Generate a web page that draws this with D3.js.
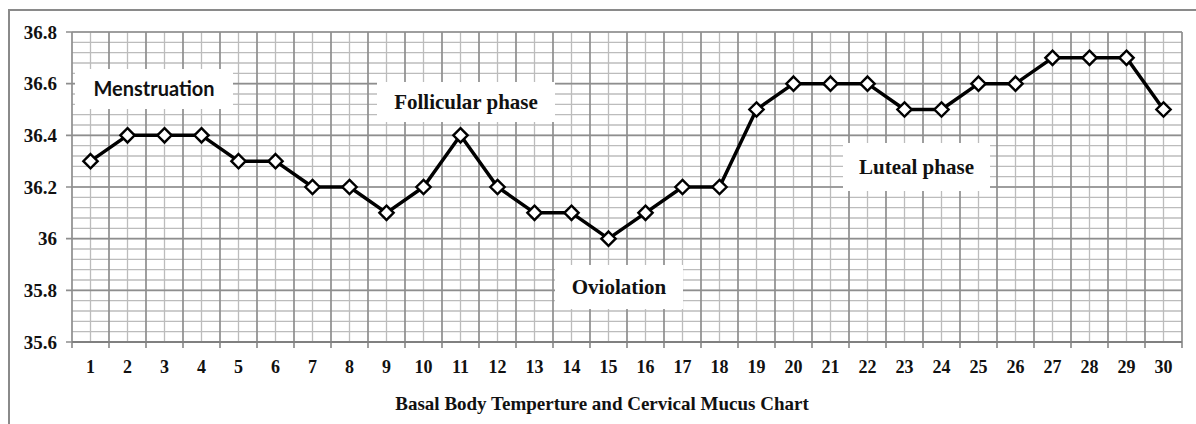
<!DOCTYPE html>
<html>
<head>
<meta charset="utf-8">
<script src="https://cdn.jsdelivr.net/npm/d3@7"></script>
<style>
  html, body { margin: 0; padding: 0; background: #fff; }
  svg { display: block; }
</style>
</head>
<body>
<div id="chart"></div>
<script>
// Data
var days = d3.range(1, 31);
var temps = [36.3, 36.4, 36.4, 36.4, 36.3, 36.3, 36.2, 36.2, 36.1, 36.2,
             36.4, 36.2, 36.1, 36.1, 36.0, 36.1, 36.2, 36.2, 36.5, 36.6,
             36.6, 36.6, 36.5, 36.5, 36.6, 36.6, 36.7, 36.7, 36.7, 36.5];
var yTicks = [35.6, 35.8, 36, 36.2, 36.4, 36.6, 36.8];
var yMinorStep = 0.04;
var title = "Basal Body Temperture and Cervical Mucus Chart";
var phaseLabels = ["Menstruation", "Follicular phase", "Oviolation", "Luteal phase"];

// Size
var chart_width = 1196;
var chart_height = 424;
var plot = { left: 72, right: 1182, top: 32, bottom: 342 };

var x = d3.scaleBand()
    .domain(days)
    .range([plot.left, plot.right])
    .padding(0);
var y = d3.scaleLinear()
    .domain([35.6, 36.8])
    .range([plot.bottom, plot.top]);

var svg = d3.select("#chart")
    .append("svg")
    .attr("width", chart_width)
    .attr("height", chart_height);

// outer frame
svg.append("rect")
    .attr("x", 9).attr("y", 10)
    .attr("width", 1200).attr("height", 430)
    .style("fill", "#fff")
    .style("stroke", "#8a8a8a")
    .style("stroke-width", 2);

// minor grid
var yMinor = d3.range(0, Math.round((36.8 - 35.6) / yMinorStep) + 1)
    .map(i => +(35.6 + i * yMinorStep).toFixed(2));

svg.append("g").selectAll("line")
    .data(yMinor)
    .enter()
    .append("line")
    .attr("x1", plot.left).attr("x2", plot.right)
    .attr("y1", d => y(d)).attr("y2", d => y(d))
    .style("stroke", "#bcbcbc")
    .style("stroke-width", 1.3);

svg.append("g").selectAll("line")
    .data(days)
    .enter()
    .append("line")
    .attr("x1", d => x(d) + x.bandwidth() / 2).attr("x2", d => x(d) + x.bandwidth() / 2)
    .attr("y1", plot.top).attr("y2", plot.bottom)
    .style("stroke", "#bcbcbc")
    .style("stroke-width", 1.3);

// major grid
svg.append("g").selectAll("line")
    .data(yTicks)
    .enter()
    .append("line")
    .attr("x1", plot.left - 6).attr("x2", plot.right)
    .attr("y1", d => y(d)).attr("y2", d => y(d))
    .style("stroke", "#8e8e8e")
    .style("stroke-width", 1.7);

svg.append("g").selectAll("line")
    .data(days.concat([31]))
    .enter()
    .append("line")
    .attr("x1", d => d > 30 ? plot.right : x(d)).attr("x2", d => d > 30 ? plot.right : x(d))
    .attr("y1", plot.top).attr("y2", plot.bottom + 6)
    .style("stroke", "#8e8e8e")
    .style("stroke-width", 1.7);

// bottom axis line
svg.append("line")
    .attr("x1", plot.left).attr("x2", plot.right)
    .attr("y1", plot.bottom).attr("y2", plot.bottom)
    .style("stroke", "#808080")
    .style("stroke-width", 2);

// tick labels
svg.append("g").selectAll("text")
    .data(yTicks)
    .enter()
    .append("text")
    .attr("x", 57)
    .attr("y", d => y(d))
    .attr("dy", "0.35em")
    .attr("text-anchor", "end")
    .style("font", "bold 19px 'Liberation Serif', 'Times New Roman', serif")
    .style("fill", "#111")
    .text(d => String(d));

svg.append("g").selectAll("text")
    .data(days)
    .enter()
    .append("text")
    .attr("x", d => x(d) + x.bandwidth() / 2)
    .attr("y", 367)
    .attr("dy", "0.35em")
    .attr("text-anchor", "middle")
    .style("font", "bold 18px 'Liberation Serif', 'Times New Roman', serif")
    .style("fill", "#111")
    .text(d => d);

// title
svg.append("text")
    .attr("x", 602)
    .attr("y", 410)
    .attr("text-anchor", "middle")
    .style("font", "bold 19px 'Liberation Serif', 'Times New Roman', serif")
    .style("fill", "#111")
    .text(title);

// phase text boxes
var boxes = [
    { x: 75,  y: 69,  w: 158, h: 40, font: "bold 20px Lato, 'Open Sans', sans-serif" },
    { x: 377, y: 82,  w: 178, h: 40, font: "bold 21px 'Liberation Serif', serif" },
    { x: 555, y: 265, w: 128, h: 44, font: "bold 21px 'Liberation Serif', serif" },
    { x: 843, y: 143, w: 147, h: 48, font: "bold 21px 'Liberation Serif', serif" }
];
var labelG = svg.append("g").selectAll("g")
    .data(phaseLabels)
    .enter()
    .append("g");
labelG.append("rect")
    .attr("x", (d, i) => boxes[i].x)
    .attr("y", (d, i) => boxes[i].y)
    .attr("width", (d, i) => boxes[i].w)
    .attr("height", (d, i) => boxes[i].h)
    .style("fill", "#fff");
labelG.append("text")
    .attr("x", (d, i) => boxes[i].x + boxes[i].w / 2)
    .attr("y", (d, i) => boxes[i].y + boxes[i].h / 2)
    .attr("dy", "0.35em")
    .attr("text-anchor", "middle")
    .style("font", (d, i) => boxes[i].font)
    .style("fill", "#111")
    .text(d => d);

// line
var line = d3.line()
    .x((d, i) => x(days[i]) + x.bandwidth() / 2)
    .y(d => y(d));

svg.append("path")
    .datum(temps)
    .attr("d", line)
    .style("fill", "none")
    .style("stroke", "#000")
    .style("stroke-width", 3.5)
    .style("stroke-linejoin", "round");

// markers
svg.append("g").selectAll("path")
    .data(temps)
    .enter()
    .append("path")
    .attr("d", d3.symbol().type(d3.symbolDiamond2).size(130))
    .attr("transform", (d, i) => "translate(" + (x(days[i]) + x.bandwidth() / 2) + "," + y(d) + ")")
    .style("fill", "#fff")
    .style("stroke", "#000")
    .style("stroke-width", 2.4);
</script>
</body>
</html>
